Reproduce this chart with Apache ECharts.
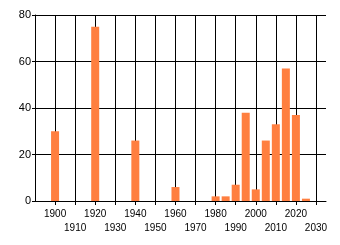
<!DOCTYPE html>
<html><head><meta charset="utf-8">
<script src="https://cdn.jsdelivr.net/npm/echarts@6/dist/echarts.min.js"></script>
<style>html,body{margin:0;padding:0;background:#fff}#c{width:340px;height:245px}</style>
</head><body><div id="c"></div>
<script>
var years = [1900, 1920, 1940, 1960, 1980, 1985, 1990, 1995, 2000, 2005, 2010, 2015, 2020, 2025];
var counts = [30, 75, 26, 6, 2, 2, 7, 38, 5, 26, 33, 57, 37, 1];
var yTicks = [0, 20, 40, 60, 80];
var xMin = 1890, xMax = 2035;

var chart = echarts.init(document.getElementById('c'), null, {renderer: 'canvas'});
chart.setOption({
  animation: false,
  grid: {left: 35, top: 15, right: 14, bottom: 44, containLabel: false},
  xAxis: {
    type: 'value', min: xMin, max: xMax, interval: 10,
    axisLine: {show: true, onZero: false, lineStyle: {color: '#000', width: 1}},
    axisTick: {show: true, length: 4, lineStyle: {color: '#000'}},
    splitLine: {show: true, showMinLine: false, showMaxLine: false, lineStyle: {color: '#000', width: 1}},
    axisLabel: {
      showMinLabel: false, showMaxLabel: false,
      margin: 6, color: '#000', fontSize: 10, fontFamily: 'Liberation Sans', lineHeight: 14,
      formatter: function (v) {
        if (v === xMin || v === xMax || v % 10 !== 0) return '';
        return ((v - 1900) / 10) % 2 === 0 ? String(v) : '\n' + v;
      }
    }
  },
  yAxis: {
    type: 'value', min: yTicks[0], max: yTicks[yTicks.length - 1], interval: 20,
    axisLine: {show: true, lineStyle: {color: '#000', width: 1}},
    axisTick: {show: true, length: 3, lineStyle: {color: '#000'}},
    splitLine: {show: true, lineStyle: {color: '#000', width: 1}},
    axisLabel: {margin: 4, color: '#000', fontSize: 11, fontFamily: 'Liberation Sans'}
  },
  series: [{
    type: 'bar',
    data: years.map(function (y, i) { return [y, counts[i]]; }),
    barWidth: 8,
    itemStyle: {color: '#FF7F40'}
  }]
});
</script></body></html>
